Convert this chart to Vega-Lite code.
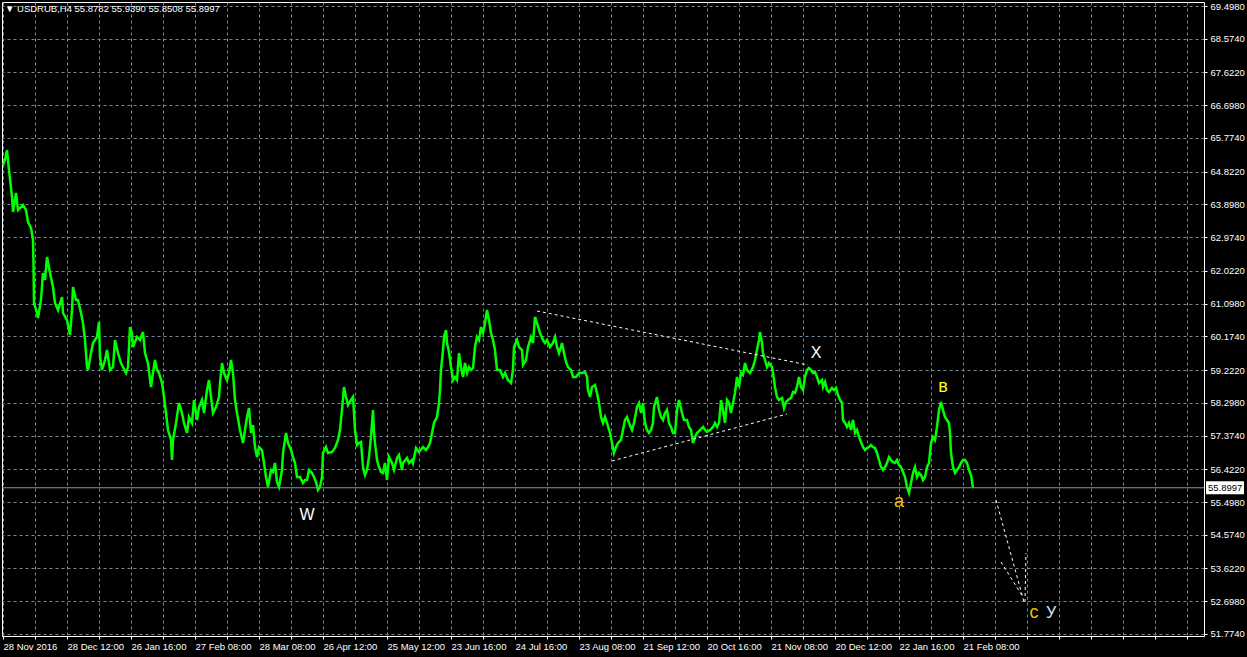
{
  "$schema": "https://vega.github.io/schema/vega-lite/v6.json",
  "width": 1202,
  "height": 634,
  "autosize": "none",
  "padding": {"left": 2, "top": 2, "right": 43, "bottom": 21},
  "background": "#000000",
  "config": {
    "view": {"stroke": "#ffffff", "strokeWidth": 1},
    "font": "Liberation Sans"
  },
  "title": {
    "text": "▼  USDRUB,H4  55.8782 55.9390 55.8508 55.8997",
    "anchor": "start",
    "frame": "group",
    "orient": "top",
    "offset": -12,
    "baseline": "top",
    "dx": 3,
    "color": "#ffffff",
    "fontSize": 9.5,
    "font": "Liberation Sans",
    "fontWeight": "normal"
  },
  "datasets": {
    "series": [
      {"bar":0,"price":65.010},{"bar":4,"price":65.151},{"bar":8,"price":65.433},{"bar":12,"price":64.869},{"bar":18,"price":64.107},{"bar":20,"price":63.683},{"bar":26,"price":64.220},{"bar":30,"price":63.740},{"bar":40,"price":63.881},{"bar":46,"price":63.740},{"bar":50,"price":63.401},{"bar":56,"price":63.232},{"bar":60,"price":62.893},{"bar":61,"price":62.244},{"bar":62,"price":61.115},{"bar":68,"price":60.833},{"bar":70,"price":60.691},{"bar":76,"price":61.199},{"bar":80,"price":61.962},{"bar":84,"price":61.764},{"bar":88,"price":62.413},{"bar":94,"price":61.962},{"bar":100,"price":61.566},{"bar":104,"price":61.115},{"bar":110,"price":60.917},{"bar":118,"price":61.284},{"bar":120,"price":60.833},{"bar":128,"price":60.635},{"bar":134,"price":60.212},{"bar":138,"price":60.917},{"bar":140,"price":61.566},{"bar":146,"price":61.199},{"bar":150,"price":61.199},{"bar":156,"price":60.833},{"bar":160,"price":60.550},{"bar":164,"price":60.070},{"bar":168,"price":59.308},{"bar":170,"price":59.224},{"bar":176,"price":59.704},{"bar":180,"price":59.986},{"bar":188,"price":60.155},{"bar":192,"price":60.579},{"bar":194,"price":59.591},{"bar":198,"price":59.224},{"bar":204,"price":59.506},{"bar":208,"price":59.788},{"bar":214,"price":59.224},{"bar":220,"price":59.308},{"bar":224,"price":60.070},{"bar":230,"price":59.704},{"bar":236,"price":59.421},{"bar":240,"price":59.308},{"bar":246,"price":59.139},{"bar":250,"price":59.308},{"bar":254,"price":60.437},{"bar":258,"price":60.268},{"bar":260,"price":59.873},{"bar":268,"price":60.155},{"bar":274,"price":60.070},{"bar":280,"price":60.296},{"bar":284,"price":59.704},{"bar":290,"price":59.421},{"bar":296,"price":58.744},{"bar":300,"price":59.139},{"bar":304,"price":59.506},{"bar":308,"price":59.224},{"bar":312,"price":59.139},{"bar":318,"price":58.857},{"bar":322,"price":58.462},{"bar":326,"price":58.010},{"bar":330,"price":57.530},{"bar":336,"price":57.248},{"bar":338,"price":56.683},{"bar":340,"price":57.248},{"bar":346,"price":57.728},{"bar":352,"price":58.292},{"bar":358,"price":58.010},{"bar":362,"price":57.728},{"bar":368,"price":57.446},{"bar":372,"price":57.897},{"bar":378,"price":57.728},{"bar":382,"price":58.377},{"bar":388,"price":57.812},{"bar":392,"price":58.179},{"bar":398,"price":58.377},{"bar":402,"price":58.010},{"bar":408,"price":58.659},{"bar":412,"price":58.941},{"bar":416,"price":58.462},{"bar":420,"price":58.010},{"bar":426,"price":58.179},{"bar":432,"price":58.462},{"bar":434,"price":58.857},{"bar":438,"price":59.421},{"bar":442,"price":59.139},{"bar":448,"price":58.941},{"bar":452,"price":59.139},{"bar":456,"price":59.506},{"bar":460,"price":59.139},{"bar":464,"price":58.377},{"bar":468,"price":58.010},
      {"bar":474,"price":57.530},{"bar":480,"price":57.163},{"bar":488,"price":57.897},{"bar":492,"price":58.151},{"bar":496,"price":57.446},{"bar":500,"price":57.671},{"bar":504,"price":57.050},{"bar":508,"price":56.768},{"bar":512,"price":57.050},{"bar":518,"price":56.966},{"bar":522,"price":56.599},{"bar":526,"price":56.204},{"bar":530,"price":55.921},{"bar":536,"price":56.401},{"bar":540,"price":56.345},{"bar":544,"price":56.599},{"bar":548,"price":56.063},{"bar":552,"price":55.921},{"bar":558,"price":56.401},{"bar":560,"price":56.881},{"bar":566,"price":57.446},{"bar":570,"price":57.163},{"bar":576,"price":56.966},{"bar":580,"price":56.768},{"bar":584,"price":56.599},{"bar":588,"price":56.204},{"bar":594,"price":56.204},{"bar":600,"price":56.034},{"bar":604,"price":56.119},{"bar":608,"price":56.119},{"bar":612,"price":56.401},{"bar":618,"price":56.317},{"bar":622,"price":56.204},{"bar":626,"price":56.063},{"bar":630,"price":55.837},{"bar":634,"price":55.921},{"bar":638,"price":56.204},{"bar":640,"price":56.881},{"bar":646,"price":57.050},{"bar":650,"price":56.881},{"bar":658,"price":56.909},{"bar":664,"price":57.022},{"bar":670,"price":57.248},{"bar":674,"price":57.530},{"bar":678,"price":58.095},{"bar":682,"price":58.744},{"bar":686,"price":58.462},{"bar":690,"price":58.236},{"bar":696,"price":58.377},{"bar":700,"price":58.462},{"bar":702,"price":58.010},{"bar":704,"price":57.530},{"bar":708,"price":57.107},{"bar":712,"price":57.163},{"bar":716,"price":57.192},{"bar":720,"price":56.486},{"bar":724,"price":56.260},{"bar":728,"price":56.401},{"bar":732,"price":56.768},{"bar":736,"price":57.333},{"bar":740,"price":58.095},{"bar":742,"price":57.446},{"bar":744,"price":57.163},{"bar":748,"price":56.683},{"bar":752,"price":56.486},{"bar":756,"price":56.345},{"bar":760,"price":56.317},{"bar":764,"price":56.599},{"bar":768,"price":56.119},{"bar":772,"price":56.768},{"bar":778,"price":56.599},{"bar":782,"price":56.401},{"bar":788,"price":56.740},{"bar":792,"price":56.825},{"bar":798,"price":56.401},{"bar":800,"price":56.599},{"bar":808,"price":56.740},{"bar":812,"price":56.599},{"bar":818,"price":56.683},{"bar":820,"price":56.599},{"bar":826,"price":57.022},{"bar":832,"price":56.909},{"bar":840,"price":57.050},{"bar":846,"price":56.966},{"bar":850,"price":57.050},{"bar":854,"price":57.163},{"bar":858,"price":57.446},{"bar":862,"price":57.728},{"bar":868,"price":57.897},{"bar":872,"price":58.292},{"bar":874,"price":58.659},{"bar":876,"price":59.224},{"bar":880,"price":59.788},{"bar":882,"price":60.155},{"bar":886,"price":60.353},{"bar":888,"price":59.986},{"bar":892,"price":59.732},{"bar":896,"price":59.308},{"bar":900,"price":58.941},{"bar":904,"price":59.026},{"bar":908,"price":58.941},{"bar":912,"price":59.704},{"bar":916,"price":59.308},{"bar":920,"price":59.026},{"bar":924,"price":59.421},{"bar":928,"price":59.139},{"bar":932,"price":59.308},{"bar":936,"price":59.224},{"bar":940,"price":59.280},{"bar":944,"price":59.873},{"bar":948,"price":60.155},{"bar":952,"price":60.070},{"bar":956,"price":60.437},{"bar":960,"price":60.268},{"bar":964,"price":60.550},{"bar":968,"price":60.917},{"bar":972,"price":60.635},{"bar":976,"price":60.268},{"bar":980,"price":60.070},{"bar":984,"price":59.788},{"bar":988,"price":59.224},
      {"bar":994,"price":59.224},{"bar":1000,"price":59.026},{"bar":1004,"price":59.139},{"bar":1010,"price":58.941},{"bar":1016,"price":58.857},{"bar":1020,"price":59.224},{"bar":1022,"price":59.873},{"bar":1028,"price":60.070},{"bar":1032,"price":59.873},{"bar":1038,"price":59.788},{"bar":1040,"price":59.365},{"bar":1046,"price":59.506},{"bar":1050,"price":59.873},{"bar":1056,"price":60.155},{"bar":1060,"price":59.986},{"bar":1064,"price":60.720},{"bar":1068,"price":60.550},{"bar":1074,"price":60.268},{"bar":1080,"price":60.070},{"bar":1084,"price":59.986},{"bar":1088,"price":60.070},{"bar":1094,"price":59.873},{"bar":1100,"price":59.986},{"bar":1104,"price":60.155},{"bar":1108,"price":59.873},{"bar":1112,"price":59.704},{"bar":1118,"price":59.986},{"bar":1122,"price":59.704},{"bar":1126,"price":59.450},{"bar":1130,"price":59.308},{"bar":1136,"price":59.224},{"bar":1140,"price":59.026},{"bar":1146,"price":59.026},{"bar":1152,"price":59.139},{"bar":1158,"price":59.139},{"bar":1164,"price":59.167},{"bar":1168,"price":59.026},{"bar":1170,"price":58.659},{"bar":1174,"price":58.462},{"bar":1178,"price":58.744},{"bar":1184,"price":58.800},{"bar":1188,"price":58.575},{"bar":1192,"price":58.292},{"bar":1196,"price":57.897},{"bar":1200,"price":57.728},{"bar":1204,"price":57.897},{"bar":1208,"price":57.728},{"bar":1214,"price":57.446},{"bar":1218,"price":57.163},{"bar":1222,"price":56.881},{"bar":1226,"price":57.050},{"bar":1230,"price":57.163},{"bar":1236,"price":57.248},{"bar":1240,"price":57.530},{"bar":1244,"price":57.812},{"bar":1248,"price":57.897},{"bar":1252,"price":57.728},{"bar":1258,"price":57.530},{"bar":1262,"price":57.728},{"bar":1268,"price":58.179},{"bar":1272,"price":58.292},{"bar":1276,"price":58.010},{"bar":1280,"price":58.292},{"bar":1284,"price":57.728},{"bar":1288,"price":57.530},{"bar":1292,"price":57.446},{"bar":1296,"price":57.530},{"bar":1300,"price":57.728},{"bar":1302,"price":58.179},{"bar":1308,"price":58.462},{"bar":1312,"price":58.095},{"bar":1316,"price":57.897},{"bar":1320,"price":57.812},{"bar":1324,"price":58.010},{"bar":1328,"price":58.095},{"bar":1332,"price":57.728},{"bar":1336,"price":57.615},{"bar":1340,"price":57.446},{"bar":1344,"price":57.446},{"bar":1348,"price":58.095},{"bar":1352,"price":58.377},{"bar":1358,"price":58.010},{"bar":1362,"price":57.812},{"bar":1368,"price":57.812},{"bar":1372,"price":57.615},{"bar":1376,"price":57.530},{"bar":1380,"price":57.163},{"bar":1384,"price":57.333},{"bar":1388,"price":57.446},{"bar":1394,"price":57.530},{"bar":1400,"price":57.615},{"bar":1404,"price":57.530},{"bar":1408,"price":57.474},{"bar":1414,"price":57.530},{"bar":1420,"price":57.615},{"bar":1424,"price":57.728},{"bar":1428,"price":57.615},{"bar":1432,"price":57.728},{"bar":1436,"price":58.377},{"bar":1440,"price":58.095},{"bar":1444,"price":57.728},{"bar":1448,"price":58.377},{"bar":1452,"price":58.292},{"bar":1456,"price":58.010},{"bar":1460,"price":58.292},{"bar":1464,"price":58.575},{"bar":1468,"price":59.026},{"bar":1472,"price":58.744},{"bar":1476,"price":59.139},{"bar":1480,"price":59.083},{"bar":1484,"price":59.421},{"bar":1488,"price":59.224},
      {"bar":1494,"price":59.139},{"bar":1500,"price":59.308},{"bar":1504,"price":59.506},{"bar":1508,"price":59.788},{"bar":1512,"price":60.070},{"bar":1514,"price":60.296},{"bar":1518,"price":59.986},{"bar":1520,"price":59.704},{"bar":1524,"price":59.506},{"bar":1528,"price":59.308},{"bar":1532,"price":59.421},{"bar":1538,"price":59.308},{"bar":1540,"price":59.139},{"bar":1544,"price":58.744},{"bar":1548,"price":58.462},{"bar":1552,"price":58.377},{"bar":1558,"price":58.433},{"bar":1562,"price":58.151},{"bar":1566,"price":58.321},{"bar":1570,"price":58.377},{"bar":1576,"price":58.433},{"bar":1580,"price":58.603},{"bar":1584,"price":58.575},{"bar":1588,"price":58.744},{"bar":1592,"price":59.026},{"bar":1596,"price":58.744},{"bar":1600,"price":58.659},{"bar":1604,"price":59.026},{"bar":1608,"price":59.224},{"bar":1612,"price":59.280},{"bar":1616,"price":59.224},{"bar":1620,"price":59.139},{"bar":1624,"price":59.167},{"bar":1628,"price":59.026},{"bar":1632,"price":58.857},{"bar":1638,"price":58.941},{"bar":1640,"price":58.744},{"bar":1644,"price":58.885},{"bar":1648,"price":58.659},{"bar":1652,"price":58.603},{"bar":1658,"price":58.716},{"bar":1662,"price":58.659},{"bar":1666,"price":58.716},{"bar":1670,"price":58.518},{"bar":1674,"price":58.377},{"bar":1678,"price":58.292},{"bar":1680,"price":57.812},{"bar":1684,"price":57.728},{"bar":1688,"price":57.615},{"bar":1692,"price":57.728},{"bar":1696,"price":57.530},{"bar":1700,"price":57.812},{"bar":1704,"price":57.446},{"bar":1708,"price":57.530},{"bar":1712,"price":57.333},{"bar":1716,"price":57.192},{"bar":1720,"price":57.050},{"bar":1724,"price":56.966},{"bar":1728,"price":57.022},{"bar":1732,"price":57.050},{"bar":1736,"price":57.107},{"bar":1740,"price":57.050},{"bar":1744,"price":57.022},{"bar":1748,"price":56.881},{"bar":1752,"price":56.683},{"bar":1756,"price":56.486},{"bar":1760,"price":56.401},{"bar":1764,"price":56.486},{"bar":1768,"price":56.599},{"bar":1772,"price":56.768},{"bar":1776,"price":56.683},{"bar":1780,"price":56.627},{"bar":1784,"price":56.599},{"bar":1788,"price":56.683},{"bar":1792,"price":56.542},{"bar":1796,"price":56.486},{"bar":1800,"price":56.345},{"bar":1804,"price":56.204},{"bar":1808,"price":55.921},{"bar":1812,"price":55.752},{"bar":1816,"price":56.034},{"bar":1820,"price":56.317},{"bar":1824,"price":56.486},{"bar":1828,"price":56.204},{"bar":1832,"price":56.317},{"bar":1836,"price":56.260},{"bar":1840,"price":56.119},{"bar":1844,"price":56.204},{"bar":1848,"price":56.486},{"bar":1852,"price":56.599},{"bar":1856,"price":57.163},{"bar":1860,"price":57.333},{"bar":1864,"price":57.248},{"bar":1868,"price":57.615},{"bar":1872,"price":58.095},{"bar":1876,"price":58.321},{"bar":1880,"price":58.095},{"bar":1884,"price":57.897},{"bar":1888,"price":57.812},{"bar":1892,"price":57.728},{"bar":1894,"price":57.446},{"bar":1896,"price":56.881},{"bar":1900,"price":56.486},{"bar":1904,"price":56.317},{"bar":1908,"price":56.401},{"bar":1912,"price":56.486},{"bar":1916,"price":56.599},{"bar":1920,"price":56.683},{"bar":1924,"price":56.683},{"bar":1928,"price":56.599},{"bar":1932,"price":56.401},{"bar":1936,"price":56.260},{"bar":1940,"price":55.900}
    ],
    "trend": [
      {"seg":"a","bar":1068,"price":60.890},{"seg":"a","bar":1610,"price":59.365},
      {"seg":"b","bar":1218,"price":56.656},{"seg":"b","bar":1568,"price":57.982},
      {"seg":"c","bar":1986,"price":55.555},{"seg":"c","bar":2042,"price":52.676},
      {"seg":"d","bar":1996,"price":53.805},{"seg":"d","bar":2040,"price":52.817},
      {"seg":"e","bar":2046,"price":54.059},{"seg":"e","bar":2044,"price":52.676}
    ],
    "waves": [
      {"label":"W","bar":608,"price":55.131,"kind":"white","size":16},
      {"label":"X","bar":1626,"price":59.704,"kind":"white","size":16},
      {"label":"в","bar":1880,"price":58.744,"kind":"yellow","size":18},
      {"label":"a","bar":1792,"price":55.498,"kind":"gold","size":18},
      {"label":"c","bar":2062,"price":52.365,"kind":"gold","size":18},
      {"label":"У","bar":2096,"price":52.365,"kind":"blue","size":16}
    ],
    "last": [
      {"price":55.8997,"label":"55.8997","top":56.083,"bottom":55.716,"bar":2406,"bar2":2482,"bart":2410}
    ]
  },
  "layer": [
    {
      "data": {"name": "series"},
      "mark": {"type": "line", "color": "#00ff00", "strokeWidth": 2.5},
      "encoding": {
        "x": {
          "field": "bar", "type": "quantitative",
          "scale": {"domain": [-2, 2402], "nice": false, "zero": false},
          "axis": {
            "title": null,
            "orient": "bottom",
            "domain": false,
            "tickCount": 500,
            "values": [0,64,128,192,256,320,384,448,512,576,640,704,768,832,896,960,1024,1088,1152,1216,1280,1344,1408,1472,1536,1600,1664,1728,1792,1856,1920,1984,2048,2112,2176,2240,2304,2368],
            "labelExpr": "(datum.value % 128 === 0 && datum.value / 128 < 16) ? ['28 Nov 2016','28 Dec 12:00','26 Jan 16:00','27 Feb 08:00','28 Mar 08:00','26 Apr 12:00','25 May 12:00','23 Jun 16:00','24 Jul 16:00','23 Aug 08:00','21 Sep 12:00','20 Oct 16:00','21 Nov 08:00','20 Dec 12:00','22 Jan 16:00','21 Feb 08:00'][datum.value / 128] : ''",
            "labelAlign": "left",
            "labelFlush": false,
            "labelOverlap": false,
            "labelBound": false,
            "labelColor": "#ffffff",
            "labelFont": "Liberation Sans",
            "labelFontSize": 9.5,
            "labelPadding": 2,
            "grid": true,
            "gridColor": "#778899",
            "gridDash": [3, 3],
            "gridWidth": 1,
            "ticks": true,
            "tickColor": "#ffffff",
            "tickSize": 3
          }
        },
        "y": {
          "field": "price", "type": "quantitative",
          "scale": {"domain": [51.716, 69.611], "nice": false, "zero": false},
          "axis": {
            "title": null,
            "orient": "right",
            "domain": false,
            "tickCount": 500,
            "values": [51.774,52.698,53.622,54.574,55.498,56.422,57.374,58.298,59.222,60.174,61.098,62.022,62.974,63.898,64.822,65.774,66.698,67.622,68.574,69.498],
            "format": ".4f",
            "labelAlign": "left",
            "labelBaseline": "middle",
            "labelColor": "#ffffff",
            "labelFont": "Liberation Sans",
            "labelFontSize": 9.5,
            "labelPadding": 3,
            "labelOverlap": false,
            "labelBound": false,
            "labelFlush": false,
            "grid": true,
            "gridColor": "#778899",
            "gridDash": [3, 3],
            "gridWidth": 1,
            "ticks": true,
            "tickColor": "#ffffff",
            "tickSize": 3
          }
        }
      }
    },
    {
      "data": {"name": "last"},
      "mark": {"type": "rule", "color": "#8a96a6", "strokeWidth": 1},
      "encoding": {
        "y": {"field": "price", "type": "quantitative"}
      }
    },
    {
      "data": {"name": "trend"},
      "mark": {"type": "line", "color": "#ffffff", "strokeWidth": 1, "strokeDash": [3, 3]},
      "encoding": {
        "x": {"field": "bar", "type": "quantitative"},
        "y": {"field": "price", "type": "quantitative"},
        "detail": {"field": "seg", "type": "nominal"}
      }
    },
    {
      "data": {"name": "waves"},
      "mark": {"type": "text", "font": "Liberation Sans", "align": "center", "baseline": "middle"},
      "encoding": {
        "x": {"field": "bar", "type": "quantitative"},
        "y": {"field": "price", "type": "quantitative"},
        "text": {"field": "label"},
        "size": {"field": "size", "type": "quantitative", "scale": null, "legend": null},
        "color": {
          "field": "kind", "type": "nominal", "legend": null,
          "scale": {"domain": ["white", "yellow", "gold", "blue"], "range": ["#ffffff", "#ffff00", "#f0c000", "#d6e2ff"]}
        }
      }
    },
    {
      "data": {"name": "last"},
      "mark": {"type": "rect", "color": "#ffffff"},
      "encoding": {
        "x": {"field": "bar", "type": "quantitative"},
        "x2": {"field": "bar2"},
        "y": {"field": "top", "type": "quantitative"},
        "y2": {"field": "bottom"}
      }
    },
    {
      "data": {"name": "last"},
      "mark": {"type": "text", "color": "#000000", "font": "Liberation Sans", "fontSize": 9.5, "align": "left", "baseline": "middle"},
      "encoding": {
        "x": {"field": "bart", "type": "quantitative"},
        "y": {"field": "price", "type": "quantitative"},
        "text": {"field": "label"}
      }
    }
  ]
}
